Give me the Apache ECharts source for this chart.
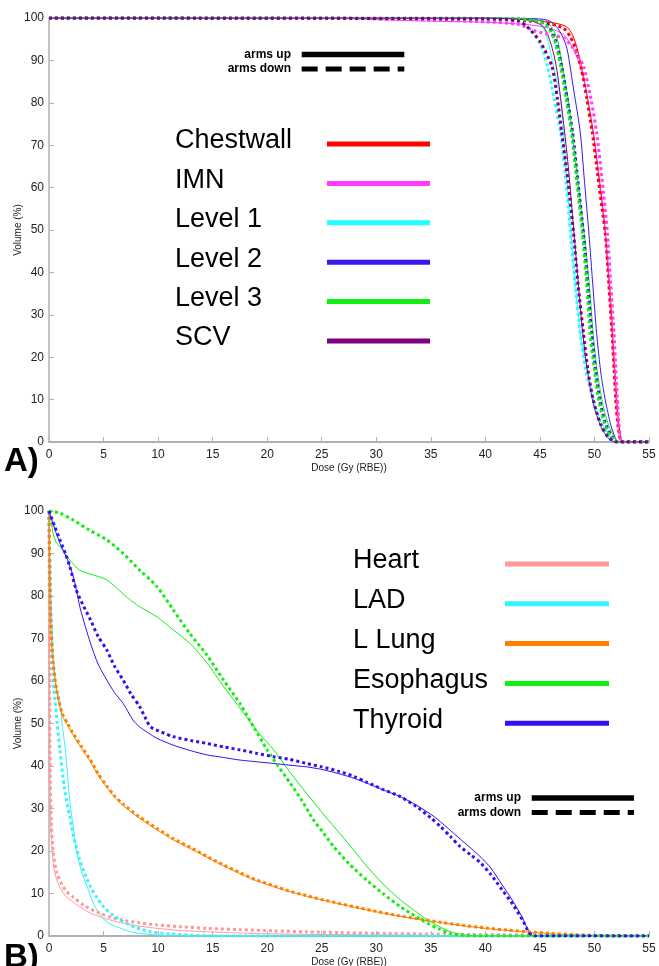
<!DOCTYPE html>
<html>
<head>
<meta charset="utf-8">
<script src="https://cdn.jsdelivr.net/npm/echarts@6/dist/echarts.min.js"></script>
<style>
  html, body { margin: 0; padding: 0; background: #fff; }
  #chart { width: 659px; height: 966px; }
</style>
</head>
<body>
<div id="chart"></div>
<script>
// ---- data: [dose (Gy RBE), volume (%)] ----
// panel A, targets
const chestwallUp = [[0,100],[40,100],[44,99.6],[46,99],[47.4,98],[48,96],[48.5,92],[49,86],[49.5,79],[50,71],[50.5,61],[50.9,52],[51.2,43],[51.5,33],[51.75,22],[52,12],[52.2,5],[52.45,0.5],[52.6,0],[55,0]];
const chestwallDown = [[0,100],[40,99.8],[44,99.3],[46,98.6],[47.2,97.5],[47.8,95.5],[48.3,92.6],[48.8,88],[49.3,81],[49.8,73],[50.3,63],[50.7,55],[51,49],[51.3,38],[51.6,26],[51.8,17],[51.95,10],[52.15,4],[52.4,0.3],[52.6,0],[55,0]];
const imnUp = [[0,100],[26,100],[30,99.6],[36,99.2],[40,99],[44,98.4],[46,97.5],[47.2,96],[48,93],[48.7,88.6],[49.3,82],[49.9,73],[50.5,60],[51,49],[51.3,38],[51.6,26],[51.85,15],[52.05,7],[52.3,1],[52.5,0],[55,0]];
const imnDown = [[0,100],[25,100],[35,99.5],[40,99.1],[43,98.5],[44.5,97],[46,96],[47.2,95.2],[48,93],[48.5,91],[49,88.6],[49.6,82],[50.2,73],[50.7,62],[51.2,49],[51.5,37],[51.8,25.6],[52,15],[52.2,6],[52.4,0.5],[52.6,0],[55,0]];
const level1Up = [[0,100],[40,99.9],[44,99.5],[45.2,98],[45.7,95],[46.3,88],[46.9,80.7],[47.3,68],[47.6,57],[48,45],[48.4,33],[48.8,24],[49.3,17.6],[50,9],[50.5,5],[50.9,3.5],[51.4,1.2],[51.8,0.2],[52,0],[55,0]];
const level1Down = [[0,100],[40,99.8],[43,99.3],[44.1,97.3],[45,94],[45.7,88.6],[46.3,81],[46.9,72.9],[47.4,61],[47.8,49.2],[48.2,38],[48.7,25.6],[49.2,17],[49.9,9.8],[50.6,4],[51.2,1.2],[51.5,0.3],[51.8,0],[55,0]];
const level2Up = [[0,100],[40,100],[44,99.9],[45.7,99.5],[46.5,98],[47.1,95.5],[47.5,92.6],[48.1,83],[48.7,73],[49.1,61],[49.5,49],[49.85,37],[50.2,25.6],[50.6,16],[51,9.8],[51.5,4],[51.9,1],[52.1,0],[55,0]];
const level2Down = [[0,100],[40,99.9],[44,99.6],[45.6,98.6],[46.4,95],[47,88.6],[47.5,81],[48,73],[48.5,61],[49,49],[49.4,37],[49.75,25.6],[50.1,17],[50.5,9.8],[51,4.5],[51.6,1.2],[52.1,0],[55,0]];
const level3Up = [[0,100],[40,100],[44,99.7],[45.8,98.7],[46.6,95],[47.1,88],[47.6,80.7],[48.1,70],[48.7,57],[49.2,46],[49.6,35],[49.9,25],[50.3,16],[50.8,8.5],[51.3,4],[51.8,1.2],[52.3,0],[55,0]];
const level3Down = [[0,100],[40,99.9],[44,99.6],[45.5,98.5],[46.3,95],[46.9,88.6],[47.4,81],[47.9,73],[48.4,61],[48.9,49],[49.3,37],[49.6,25.6],[50,17],[50.4,9.8],[50.9,4.5],[51.5,1.2],[52.1,0],[55,0]];
const scvUp = [[0,100],[40,100],[44,99.5],[45.3,98],[46,94],[46.5,88.6],[47,79],[47.6,65],[48,53],[48.4,41],[48.8,29],[49.3,17.6],[49.9,9],[50.6,3.5],[51.3,0.8],[51.9,0],[55,0]];
const scvDown = [[0,100],[40,99.8],[43,99.3],[43.8,98],[45,94.5],[46.1,88.6],[46.6,81],[47,73],[47.6,61],[48.1,49],[48.5,37],[49,25.6],[49.4,17],[49.9,9.8],[50.6,4],[51.3,1],[51.8,0.2],[52,0],[55,0]];

// panel B, organs at risk
const heartUp = [[0,100],[0.03,80],[0.06,55],[0.1,35],[0.2,24],[0.4,17],[0.7,13.2],[1.1,11],[1.6,9.2],[2.2,8],[2.8,6.9],[3.7,5.5],[4.7,4.5],[5.7,3.7],[6.8,3],[8.3,2.3],[9.9,1.8],[12,1.3],[14.5,1],[17.5,0.7],[20.6,0.5],[25,0.35],[30,0.25],[35,0.15],[40,0.1],[45,0.05],[50,0],[55,0]];
const heartDown = [[0,100],[0.03,82],[0.06,60],[0.1,40],[0.2,27],[0.4,19.5],[0.7,15],[1.2,12],[1.6,10.5],[2.2,9.2],[3.2,7.2],[4.7,5.3],[5.7,4.4],[6.8,3.7],[8.3,3.1],[9.9,2.6],[12,2.2],[14.5,1.8],[17.5,1.5],[20.6,1.2],[23.5,1],[26.7,0.8],[30,0.65],[35,0.45],[40,0.3],[45,0.2],[50,0.1],[55,0.05]];
const ladUp = [[0,100],[0.1,88],[0.2,78],[0.4,66],[0.7,58],[1,55.5],[1.2,50],[1.5,43.8],[1.9,32],[2.2,26],[2.5,20.3],[3,15],[3.5,11.6],[4.1,7.5],[4.8,4.5],[5.5,3],[6.2,2.2],[7.2,1.2],[8.3,0.6],[10.2,0.2],[12,0],[55,0]];
const ladDown = [[0,100],[0.1,86],[0.2,74],[0.35,62],[0.55,55.5],[0.75,50],[1,43.8],[1.4,35],[1.9,28.1],[2.3,23],[2.8,18],[3.3,14.5],[3.8,11.6],[4.4,9],[5,6.9],[5.8,5],[6.8,3.4],[8,2],[9.3,1],[11,0.5],[12.9,0.2],[15,0],[55,0]];
const lungUp = [[0,100],[0.05,89],[0.1,79],[0.2,70],[0.4,63.5],[0.7,57.5],[1.2,52],[1.7,49.6],[2.2,47.3],[3,44.1],[3.8,41],[4.5,37.9],[5.3,35],[6,32.7],[6.8,30.7],[8.3,27.7],[9.9,25],[11.4,22.6],[13,20.5],[14.5,18.5],[16,16.5],[17.5,14.7],[19,13],[20.6,11.6],[22,10.5],[23.6,9.4],[25,8.5],[26.7,7.5],[28.5,6.5],[30,5.7],[32,4.7],[34,3.9],[36,3.1],[38,2.4],[40,1.8],[42,1.3],[44,0.9],[46,0.55],[48,0.3],[50,0.12],[52,0.04],[55,0]];
const lungDown = [[0,100],[0.05,90],[0.1,80],[0.2,71],[0.4,64],[0.7,58],[1.2,52.5],[1.7,50],[2.2,47.7],[3,44.5],[3.8,41.4],[4.5,38.2],[5.3,35.3],[6,33],[6.8,31],[8.3,28],[9.9,25.3],[11.4,22.9],[13,20.8],[14.5,18.7],[16,16.7],[17.5,14.9],[19,13.2],[20.6,11.8],[22,10.6],[23.6,9.5],[25,8.6],[26.7,7.6],[28.5,6.6],[30,5.8],[32,4.8],[34,4],[36,3.2],[38,2.5],[40,1.9],[42,1.4],[44,1],[46,0.6],[48,0.35],[50,0.15],[52,0.05],[55,0]];
const esophagusUp = [[0,100],[0.2,97.5],[0.4,94.4],[0.7,92.5],[1,91.6],[1.9,88.5],[2.8,86.1],[4,85],[5.3,83.8],[7.1,79.8],[8.3,77.5],[9.9,75.1],[11.4,72],[12.9,68.9],[14.5,64.2],[16,58.7],[17.1,55],[18.1,51.6],[19.3,47.5],[20.6,43.8],[22.1,38.5],[23.6,33.6],[25.2,28.5],[26.7,24],[28,20],[29.1,16.5],[30.6,12.3],[32.2,8.5],[33.5,6],[34.7,3.8],[35.8,2.2],[36.8,1],[38,0.3],[39.5,0],[55,0]];
const esophagusDown = [[0,100],[1,99.5],[2.2,97.9],[3.7,95.5],[5.3,93.2],[6.8,90],[8.3,86.1],[9.9,82.2],[11.4,76.7],[12.9,71.2],[14.5,66],[16,60.2],[17.5,54.7],[18.8,49],[20,43.8],[21,40],[22.1,36],[23.2,31.8],[24.2,27.5],[25.2,24.1],[26.1,21],[27.5,17],[29.1,13.2],[30.6,10],[32.2,6.9],[33.5,4.8],[34.7,3],[35.8,1.6],[36.8,0.6],[38,0.15],[39.5,0],[55,0]];
const thyroidUp = [[0,100],[0.5,96],[1,92.4],[1.7,88.5],[2.3,83.8],[2.9,76.7],[3.8,68.9],[4.5,64],[5.3,60.2],[6,57.3],[6.8,54.7],[7.7,50.8],[8.3,49.2],[9.1,47.8],[9.9,46.5],[11.4,44.9],[13,43.6],[14.5,42.6],[16,42],[17.5,41.4],[19,41],[20.6,40.6],[22,40.2],[23.6,39.8],[25,39.2],[26.1,38.5],[27.5,37.5],[28.5,36.6],[29.5,35.6],[30.6,34.4],[32.2,32.8],[33.8,30.6],[35.3,28.1],[36.5,25.5],[37.7,22.8],[38.7,20.6],[39.6,18.5],[40.5,16],[41.5,12.2],[42.5,8.3],[43.4,4.3],[44,1],[44.4,0],[55,0]];
const thyroidDown = [[0,100],[0.5,96.5],[1,93.2],[1.5,90],[1.9,87],[2.5,81.4],[3.1,78],[3.8,74.4],[4.5,70.5],[5.3,67.3],[6,63.5],[6.8,60.2],[7.5,57],[8.3,54],[8.9,51],[9.3,49.2],[10.3,48],[11.4,46.9],[13,46],[14.5,45.3],[16,44.5],[17.5,43.8],[19,43],[20.6,42.2],[22,41.6],[23.6,40.6],[25,39.8],[26.5,38.8],[28,37.5],[29.1,36.2],[30.6,34.5],[32.2,32.8],[33.7,30.4],[35,27.8],[35.9,25.7],[36.8,23.4],[37.7,21],[38.7,19],[39.6,17.1],[40.5,14.5],[41.5,11],[42.5,7.5],[43.4,3.8],[44,0.8],[44.5,0],[55,0]];

const xTicks = { min: 0, max: 55, interval: 5 };
const yTicks = { min: 0, max: 100, interval: 10 };

const panelA = [
  { name: 'Chestwall', color: '#ff0000', up: chestwallUp, down: chestwallDown },
  { name: 'IMN', color: '#ff3cff', up: imnUp, down: imnDown },
  { name: 'Level 1', color: '#22ffff', up: level1Up, down: level1Down },
  { name: 'Level 2', color: '#3a18f0', up: level2Up, down: level2Down },
  { name: 'Level 3', color: '#11ee11', up: level3Up, down: level3Down },
  { name: 'SCV', color: '#800080', up: scvUp, down: scvDown }
];
const panelB = [
  { name: 'Heart', color: '#ff9999', up: heartUp, down: heartDown },
  { name: 'LAD', color: '#33f4ff', up: ladUp, down: ladDown },
  { name: 'L Lung', color: '#ff7f00', up: lungUp, down: lungDown },
  { name: 'Esophagus', color: '#11ee11', up: esophagusUp, down: esophagusDown },
  { name: 'Thyroid', color: '#3311ee', up: thyroidUp, down: thyroidDown }
];

const FONT = 'Liberation Sans, Arial, sans-serif';
const axisGray = '#b0b0b0';

function xAxisFor(idx) {
  return {
    type: 'value', gridIndex: idx, min: xTicks.min, max: xTicks.max, interval: xTicks.interval,
    name: 'Dose (Gy (RBE))', nameLocation: 'middle', nameGap: 21,
    nameTextStyle: { fontSize: 10, color: '#222', fontFamily: FONT },
    axisLine: { lineStyle: { color: axisGray, width: 2 } },
    axisTick: { inside: true, length: 5, lineStyle: { color: axisGray } },
    axisLabel: { fontSize: 12, color: '#222', fontFamily: FONT, margin: 7 },
    splitLine: { show: false }
  };
}
function yAxisFor(idx) {
  return {
    type: 'value', gridIndex: idx, min: yTicks.min, max: yTicks.max, interval: yTicks.interval,
    name: 'Volume (%)', nameLocation: 'middle', nameGap: 26, nameMoveOverlap: false,
    nameTextStyle: { fontSize: 10, color: '#222', fontFamily: FONT },
    axisLine: { show: true, lineStyle: { color: axisGray, width: 1.5 } },
    axisTick: { show: true, inside: true, length: 5, lineStyle: { color: axisGray } },
    axisLabel: { fontSize: 12, color: '#222', fontFamily: FONT, margin: 5 },
    splitLine: { show: false }
  };
}

function seriesFor(panel, idx) {
  const out = [];
  const base = { type: 'line', xAxisIndex: idx, yAxisIndex: idx, showSymbol: false,
    smooth: 0.25, clip: true };
  panel.forEach(s => {
    out.push(Object.assign({}, base, { name: s.name + ' arms up', data: s.up,
      lineStyle: { color: s.color, width: 1 } }));
  });
  panel.forEach(s => {
    out.push(Object.assign({}, base, { name: s.name + ' arms down', data: s.down,
      lineStyle: { color: s.color, width: 3, type: 'dotted', cap: 'butt' } }));
  });
  return out;
}

function nameKey(panel, textX, lineX1, lineX2, y0, step) {
  const g = [];
  panel.forEach((s, i) => {
    const y = y0 + i * step;
    g.push({ type: 'text', x: textX, y: y - 3,
      style: { text: s.name, font: '27px ' + FONT, fill: '#000', align: 'left', verticalAlign: 'middle' } });
    g.push({ type: 'line', shape: { x1: lineX1, y1: y, x2: lineX2, y2: y },
      style: { stroke: s.color, lineWidth: 5 } });
  });
  return g;
}

function armsKey(textRight, x1, x2, y1, y2) {
  return [
    { type: 'text', x: textRight, y: y1, style: { text: 'arms up', font: 'bold 12px ' + FONT, fill: '#000', align: 'right', verticalAlign: 'middle' } },
    { type: 'text', x: textRight, y: y2, style: { text: 'arms down', font: 'bold 12px ' + FONT, fill: '#000', align: 'right', verticalAlign: 'middle' } },
    { type: 'line', shape: { x1: x1, y1: y1, x2: x2, y2: y1 }, style: { stroke: '#000', lineWidth: 5.5 } },
    { type: 'line', shape: { x1: x1, y1: y2, x2: x2, y2: y2 }, style: { stroke: '#000', lineWidth: 5, lineDash: [16, 8], lineCap: 'butt' } }
  ];
}

const chart = echarts.init(document.getElementById('chart'), null, { renderer: 'canvas' });
chart.setOption({
  backgroundColor: '#fff',
  animation: false,
  grid: [
    { left: 49, top: 18, width: 600, height: 424, containLabel: false, outerBoundsMode: 'none' },
    { left: 49, top: 511, width: 600, height: 425, containLabel: false, outerBoundsMode: 'none' }
  ],
  xAxis: [xAxisFor(0), xAxisFor(1)],
  yAxis: [yAxisFor(0), yAxisFor(1)],
  series: seriesFor(panelA, 0).concat(seriesFor(panelB, 1)),
  graphic: [].concat(
    nameKey(panelA, 175, 327, 430, 144, 39.4),
    nameKey(panelB, 353, 505, 609, 564, 39.8),
    armsKey(291, 301.7, 404.3, 54.5, 69),
    armsKey(521, 531.7, 634, 798, 812.5),
    [
      { type: 'text', x: 4, y: 462, style: { text: 'A)', font: 'bold 33px ' + FONT, fill: '#000', verticalAlign: 'middle' } },
      { type: 'text', x: 4, y: 958, style: { text: 'B)', font: 'bold 33px ' + FONT, fill: '#000', verticalAlign: 'middle' } }
    ]
  )
});
</script>
</body>
</html>
